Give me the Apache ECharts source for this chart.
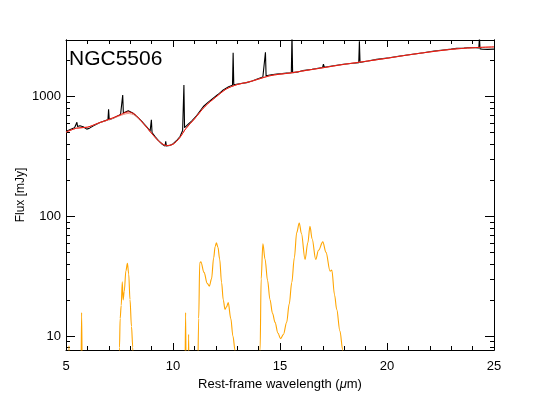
<!DOCTYPE html>
<html lang="en">
<head>
    <meta charset="UTF-8">
    <title>NGC5506</title>
    <script src="https://cdn.jsdelivr.net/npm/echarts@6/dist/echarts.min.js"></script>
    <style>
        html, body { margin: 0; padding: 0; background: #fff; }
        #main { width: 534px; height: 401px; }
    </style>
</head>
<body>
<div id="main"></div>
<script>
    // observed spectrum (black)
    const obsWave = [5.00, 5.20, 5.40, 5.48, 5.51, 5.54, 5.65, 5.80, 5.97, 6.10, 6.28, 6.59, 6.85, 6.96, 6.99, 7.02,
        7.20, 7.37, 7.55, 7.62, 7.65, 7.68, 7.91, 8.14, 8.35, 8.54, 8.75, 8.93, 8.96, 8.99, 9.02, 9.15, 9.31, 9.50,
        9.63, 9.66, 9.69, 9.85, 10.01, 10.20, 10.33, 10.45, 10.49, 10.51, 10.54, 10.70, 10.87, 11.10, 11.42, 11.65,
        11.88, 12.10, 12.35, 12.60, 12.78, 12.81, 12.84, 13.10, 13.44, 13.70, 13.91, 14.20, 14.29, 14.32, 14.35,
        14.60, 14.85, 15.10, 15.31, 15.53, 15.56, 15.59, 15.80, 16.07, 16.50, 16.99, 17.03, 17.07, 17.50, 17.96,
        18.30, 18.68, 18.71, 18.74, 19.10, 19.52, 20.10, 20.61, 21.20, 21.70, 22.20, 22.63, 23.00, 23.26, 23.60,
        23.88, 24.15, 24.29, 24.32, 24.35, 24.45, 24.70, 25.00];
    const obsFlux = [510, 530, 550, 560, 610, 562, 570, 560, 535, 545, 570, 607, 630, 640, 785, 642,
        660, 681, 710, 722, 1030, 728, 760, 725, 670, 620, 565, 515, 505, 640, 500, 465, 430, 400,
        386, 422, 386, 390, 404, 435, 464, 520, 535, 1250, 550, 585, 625, 690, 826, 900,
        969, 1040, 1137, 1210, 1245, 2326, 1255, 1280, 1308, 1350, 1397, 1460, 1480, 2344, 1490,
        1520, 1545, 1555, 1570, 1580, 3300, 1585, 1600, 1649, 1690, 1750, 1870, 1760, 1810, 1862,
        1890, 1915, 2900, 1925, 1980, 2047, 2110, 2182, 2260, 2327, 2400, 2448, 2490, 2530, 2550,
        2570, 2560, 2550, 3100, 2500, 2490, 2480, 2490];

    // best-fit model (red)
    const modelWave = [5.0, 5.5, 6.0, 6.5, 7.0, 7.5, 7.9, 8.2, 8.5, 8.8, 9.1, 9.4, 9.7, 10.0, 10.3, 10.6, 11.0,
        11.5, 12.0, 12.5, 13.0, 13.5, 14.0, 14.5, 15.0, 15.5, 16.0, 17.0, 18.0, 19.0, 20.0, 21.0, 22.0, 23.0,
        24.0, 25.0];
    const modelFlux = [505, 545, 555, 600, 645, 700, 745, 715, 630, 545, 470, 415, 390, 400, 450, 540, 650,
        830, 990, 1160, 1260, 1320, 1400, 1490, 1540, 1575, 1630, 1740, 1860, 1970, 2090, 2230, 2360, 2480,
        2560, 2600];

    // second model curve (light red)
    const contFlux = [505, 545, 555, 598, 640, 690, 722, 700, 625, 545, 470, 415, 390, 400, 450, 540, 650,
        830, 990, 1160, 1260, 1320, 1400, 1490, 1540, 1575, 1630, 1740, 1860, 1970, 2090, 2230, 2360, 2480,
        2560, 2600];

    // component (orange)
    const compWave = [5.00, 5.10, 5.14, 5.18, 5.69, 5.73, 5.77, 7.46, 7.50, 7.53, 7.58, 7.63, 7.67, 7.72, 7.80,
        7.87, 7.93, 7.99, 8.06, 8.12, 8.18, 10.55, 10.59, 10.62, 10.70, 10.73, 10.76, 11.14, 11.20, 11.25, 11.30,
        11.45, 11.60, 11.70, 11.80, 11.90, 11.97, 12.03, 12.10, 12.18, 12.27, 12.35, 12.43, 12.50, 12.58, 12.70,
        12.80, 12.90, 12.95, 14.00, 14.07, 14.12, 14.20, 14.30, 14.42, 14.53, 14.65, 14.77, 14.90, 15.03, 15.16,
        15.31, 15.43, 15.55, 15.67, 15.78, 15.90, 16.00, 16.17, 16.30, 16.40, 16.50, 16.67, 16.80, 17.00, 17.15,
        17.34, 17.42, 17.55, 17.65, 17.80, 17.93, 18.00];
    const compFlux = [3, 3, 8.3, 3, 3, 15.7, 3, 3, 8, 14, 18, 28.4, 20, 23.5, 35,
        40.4, 33, 20.2, 12, 8.1, 3, 3, 15.7, 3, 3, 10.3, 3, 3, 14, 40.8, 41.7,
        34, 27.5, 26.1, 30, 45, 56, 60, 55, 44, 27.9, 20, 16.7, 17.5, 19, 14,
        10, 7.6, 3, 3, 7.6, 30, 58.9, 44, 29, 20.2, 15.5, 13, 10.6, 9.5, 10.3,
        13, 18.5, 27.9, 45, 73, 88, 72, 43.6, 60, 82.6, 65, 43.6, 52, 61.2, 50,
        34.8, 35.5, 22, 16.7, 11, 7.7, 3];

    const yMajor = [10, 100, 1000];
    const yMinor = [8, 9, 20, 30, 40, 50, 60, 70, 80, 90, 200, 300, 400, 500, 600, 700, 800, 900, 2000];

    const zip = (xs, ys) => xs.map((x, i) => [x, ys[i]]);

    const font = 'Liberation Sans, Arial, sans-serif';
    const yMin = 7.64, yMax = 2970;

    const xAxisBase = {
        type: 'value', min: 5, max: 25, interval: 5,
        axisLine: { show: true, onZero: false, lineStyle: { color: '#000', width: 1 } },
        axisTick: { show: true, inside: true, length: 7, lineStyle: { color: '#000' } },
        minorTick: { show: true, splitNumber: 5, length: 4, lineStyle: { color: '#000' } },
        splitLine: { show: false },
        minorSplitLine: { show: false }
    };

    const yAxisBase = (pos, values, len, labels) => ({
        type: 'log', logBase: 10, min: yMin, max: yMax, position: pos,
        axisLine: { show: true, onZero: false, lineStyle: { color: '#000', width: 1 } },
        axisTick: { show: true, inside: true, length: len, customValues: values, lineStyle: { color: '#000' } },
        axisLabel: labels ? {
            show: true, customValues: values, color: '#000', fontSize: 13, fontFamily: font, margin: 5,
            formatter: v => String(Math.round(v))
        } : { show: false },
        splitLine: { show: false }
    });

    const myChart = echarts.init(document.getElementById('main'), null, { renderer: 'canvas' });
    const option = {
        animation: false,
        backgroundColor: '#fff',
        title: {
            text: 'NGC5506', left: 64, top: 44,
            textStyle: { fontSize: 21, fontWeight: 'normal', color: '#000', fontFamily: font }
        },
        grid: { left: 66, right: 40, top: 40, bottom: 51, containLabel: false },
        xAxis: [
            Object.assign({}, xAxisBase, {
                position: 'bottom',
                axisLabel: { color: '#000', fontSize: 13, fontFamily: font, margin: 10 },
                name: 'Rest-frame wavelength ({mu|μ}m)',
                nameLocation: 'middle', nameGap: 28,
                nameTextStyle: {
                    color: '#000', fontSize: 13, fontFamily: font,
                    rich: { mu: { fontStyle: 'italic', fontSize: 13, fontFamily: font, color: '#000' } }
                }
            }),
            Object.assign({}, xAxisBase, { position: 'top', axisLabel: { show: false } })
        ],
        yAxis: [
            Object.assign(yAxisBase('left', yMajor, 9, true), {
                name: 'Flux [mJy]', nameLocation: 'middle', nameGap: 39, nameRotate: 90,
                nameMoveOverlap: false,
                nameTextStyle: { color: '#000', fontSize: 12, fontFamily: font }
            }),
            yAxisBase('left', yMinor, 4, false),
            yAxisBase('right', yMajor, 9, false),
            yAxisBase('right', yMinor, 4, false)
        ],
        series: [
            {
                name: 'component', type: 'line', data: zip(compWave, compFlux),
                showSymbol: false, clip: true, smooth: 0.35, smoothMonotone: 'x',
                lineStyle: { color: '#FFA500', width: 1.1 }
            },
            {
                name: 'observed', type: 'line', data: zip(obsWave, obsFlux),
                showSymbol: false, clip: true,
                lineStyle: { color: '#000', width: 1.1 }
            },
            {
                name: 'continuum', type: 'line', data: zip(modelWave, contFlux),
                showSymbol: false, clip: true, smooth: 0.3,
                lineStyle: { color: '#f08878', width: 1 }
            },
            {
                name: 'model', type: 'line', data: zip(modelWave, modelFlux),
                showSymbol: false, clip: true, smooth: 0.3,
                lineStyle: { color: '#e8140c', width: 1 }
            }
        ]
    };
    myChart.setOption(option);
</script>
</body>
</html>
